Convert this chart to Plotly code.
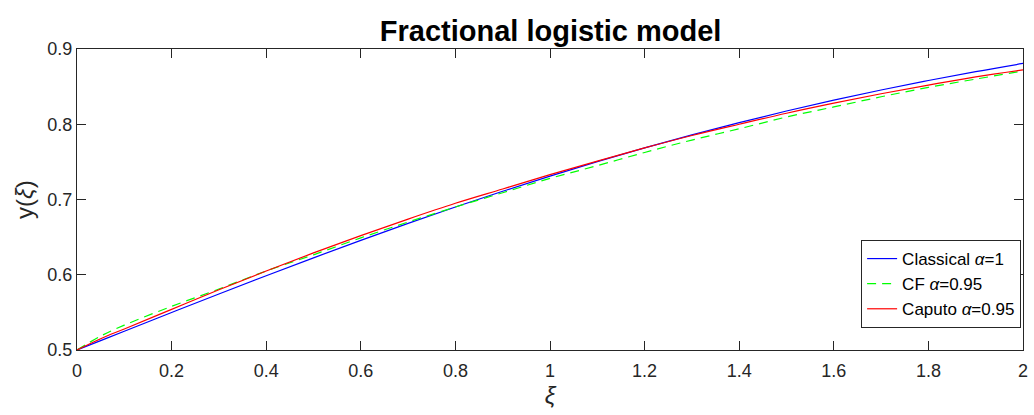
import plotly.graph_objects as go

xi = [0, 0.05, 0.1, 0.2, 0.3, 0.4, 0.5, 0.6, 0.7, 0.8, 0.9, 1.0,
      1.1, 1.2, 1.3, 1.4, 1.5, 1.6, 1.7, 1.8, 1.9, 2.0]
classical = [0.5, 0.5125, 0.525, 0.5498, 0.5744, 0.5987, 0.6225, 0.6457, 0.6682, 0.6900, 0.7109, 0.7311,
             0.7503, 0.7685, 0.7858, 0.8022, 0.8176, 0.8320, 0.8455, 0.8581, 0.8699, 0.8808]
cf = [0.5, 0.5185, 0.533, 0.558, 0.581, 0.605, 0.6265, 0.649, 0.670, 0.690, 0.709, 0.728,
      0.745, 0.7625, 0.779, 0.794, 0.8096, 0.823, 0.8365, 0.849, 0.860, 0.8708]
caputo = [0.5, 0.5150, 0.528, 0.554, 0.580, 0.605, 0.629, 0.652, 0.674, 0.695, 0.714, 0.733,
          0.751, 0.7685, 0.785, 0.800, 0.8146, 0.828, 0.8405, 0.852, 0.863, 0.8723]

x_ticks = [0, 0.2, 0.4, 0.6, 0.8, 1, 1.2, 1.4, 1.6, 1.8, 2]
x_labels = ["0", "0.2", "0.4", "0.6", "0.8", "1", "1.2", "1.4", "1.6", "1.8", "2"]
y_ticks = [0.5, 0.6, 0.7, 0.8, 0.9]
y_labels = ["0.5", "0.6", "0.7", "0.8", "0.9"]

FONT = "Liberation Sans, Arial, sans-serif"
AX = "#262626"

fig = go.Figure()
fig.add_trace(go.Scatter(x=xi, y=classical, mode="lines", line=dict(color="#0000ff", width=1.2, shape="spline"),
                         name="Classical <i>α</i>=1"))
fig.add_trace(go.Scatter(x=xi, y=cf, mode="lines", line=dict(color="#00ff00", width=1.2, dash="9px,6px", shape="spline"),
                         name="CF <i>α</i>=0.95"))
fig.add_trace(go.Scatter(x=xi, y=caputo, mode="lines", line=dict(color="#ff0000", width=1.2, shape="spline"),
                         name="Caputo <i>α</i>=0.95"))

axis_common = dict(showgrid=False, zeroline=False, showline=True, linecolor=AX, linewidth=1,
                   mirror="ticks", ticks="inside", ticklen=9, tickcolor=AX, tickwidth=1,
                   tickfont=dict(family=FONT, size=18, color=AX))

fig.update_layout(
    width=1034, height=415,
    margin=dict(l=77, r=6, t=49, b=65),
    plot_bgcolor="white", paper_bgcolor="white",
    title=dict(text="<b>Fractional logistic model</b>", x=0.5325, xanchor="center", y=0.925, yanchor="middle",
               font=dict(family=FONT, size=29, color="black")),
    xaxis=dict(range=[0, 2], tickvals=x_ticks, ticktext=x_labels, ticklabelstandoff=4,
               title=dict(text="<i>ξ</i>", font=dict(family=FONT, size=24, color=AX), standoff=7),
               **axis_common),
    yaxis=dict(range=[0.5, 0.9], tickvals=y_ticks, ticktext=y_labels,
               title=dict(text="y(<i>ξ</i>)", font=dict(family=FONT, size=24, color=AX), standoff=6),
               **axis_common),
    legend=dict(x=0.998, xanchor="right", y=0.073, yanchor="bottom",
                bgcolor="white", bordercolor=AX, borderwidth=1,
                font=dict(family=FONT, size=17, color="black"),
                tracegroupgap=0, itemwidth=30),
    showlegend=True,
)

fig.write_html("out.html")
